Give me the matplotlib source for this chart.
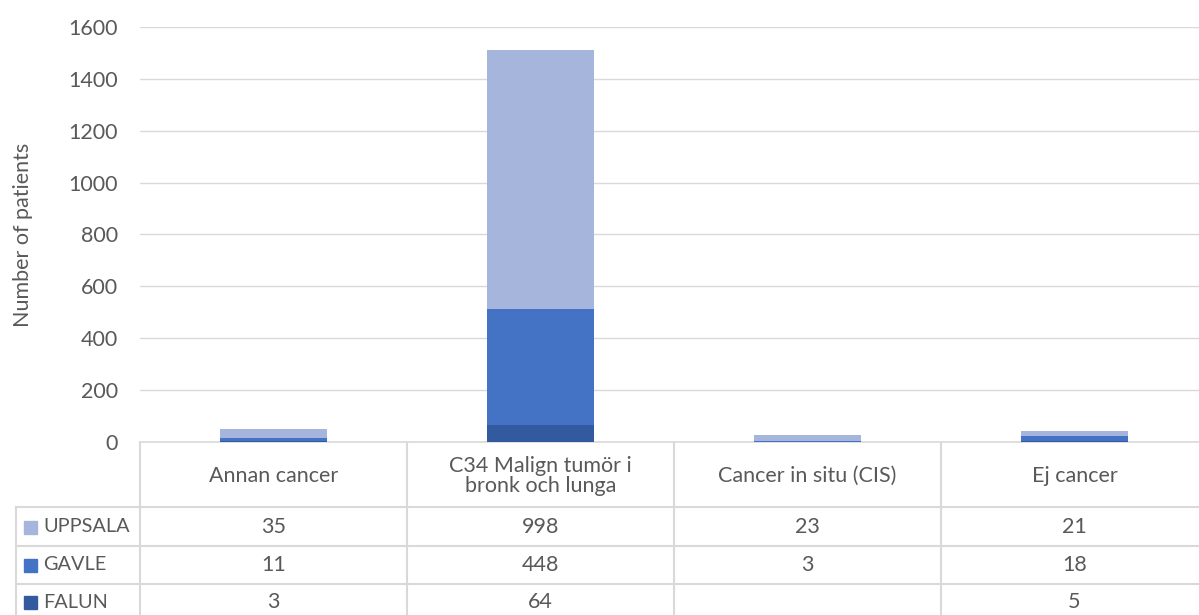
import matplotlib.pyplot as plt
import numpy as np

categories = ['Annan cancer', 'C34 Malign tumör i\nbronk och lunga',
              'Cancer in situ (CIS)', 'Ej cancer']
series = ['UPPSALA', 'GAVLE', 'FALUN']
uppsala = [35, 998, 23, 21]
gavle = [11, 448, 3, 18]
falun = [3, 64, None, 5]
colors = {'UPPSALA': '#A6B5DB', 'GAVLE': '#4472C4', 'FALUN': '#335A9F'}

plt.rcParams['font.family'] = ['Lato', 'DejaVu Sans']
txt = '#595959'
grid = '#D9D9D9'
fs = 15.5

W, H = 1199, 615
fig = plt.figure(figsize=(W / 100, H / 100), dpi=100)

# plot area in pixels: x 140..1208, y 27..442
L, R, T, B = 140, 1208, 27, 442
ax = fig.add_axes([L / W, 1 - B / H, (R - L) / W, (B - T) / H])

x = np.arange(len(categories))
vals = {'UPPSALA': uppsala, 'GAVLE': gavle, 'FALUN': falun}
bottom = np.zeros(len(categories))
for name in ['FALUN', 'GAVLE', 'UPPSALA']:
    v = np.array([0 if a is None else a for a in vals[name]], dtype=float)
    ax.bar(x, v, width=0.4, bottom=bottom, color=colors[name], zorder=3)
    bottom += v

ax.set_xlim(-0.5, len(categories) - 0.5)
ax.set_ylim(0, 1600)
ax.set_yticks(range(0, 1601, 200))
ax.tick_params(axis='y', length=0, pad=16, labelsize=fs, labelcolor=txt)
ax.set_xticks([])
ax.grid(axis='y', color=grid, linewidth=1, zorder=0)
for s in ['top', 'right', 'left']:
    ax.spines[s].set_visible(False)
ax.spines['bottom'].set_color(grid)
ax.spines['bottom'].set_linewidth(1.2)

# data table below, drawn in pixel coordinates
tb = fig.add_axes([0, 0, 1, 1], zorder=-1)
tb.set_xlim(0, W)
tb.set_ylim(H, 0)
tb.axis('off')

tb.text(23, 235, 'Number of patients', rotation=90, ha='center', va='center',
        fontsize=fs, color=txt)

colw = (R - L) / len(categories)
row_lines = [507, 546, 584]
row_centers = [527, 565, 602]
for y in row_lines:
    tb.plot([16, W], [y, y], color=grid, lw=1.5)
tb.plot([16, 16], [row_lines[0], H], color=grid, lw=1.5)
for i in range(len(categories)):
    xl = L + i * colw
    tb.plot([xl, xl], [B, H], color=grid, lw=1.5)
    tb.text(xl + colw / 2, 476, categories[i], ha='center', va='center',
            fontsize=fs, color=txt, linespacing=1.0)

for j, name in enumerate(series):
    yc = row_centers[j]
    tb.add_patch(plt.Rectangle((24, yc - 6.5), 13, 13, color=colors[name]))
    tb.text(43, yc, name, ha='left', va='center', fontsize=14.3, color=txt)
    for i, v in enumerate(vals[name]):
        if v is not None:
            tb.text(L + i * colw + colw / 2, yc, str(v), ha='center',
                    va='center', fontsize=fs, color=txt)

fig.savefig('out.png', dpi=100)
